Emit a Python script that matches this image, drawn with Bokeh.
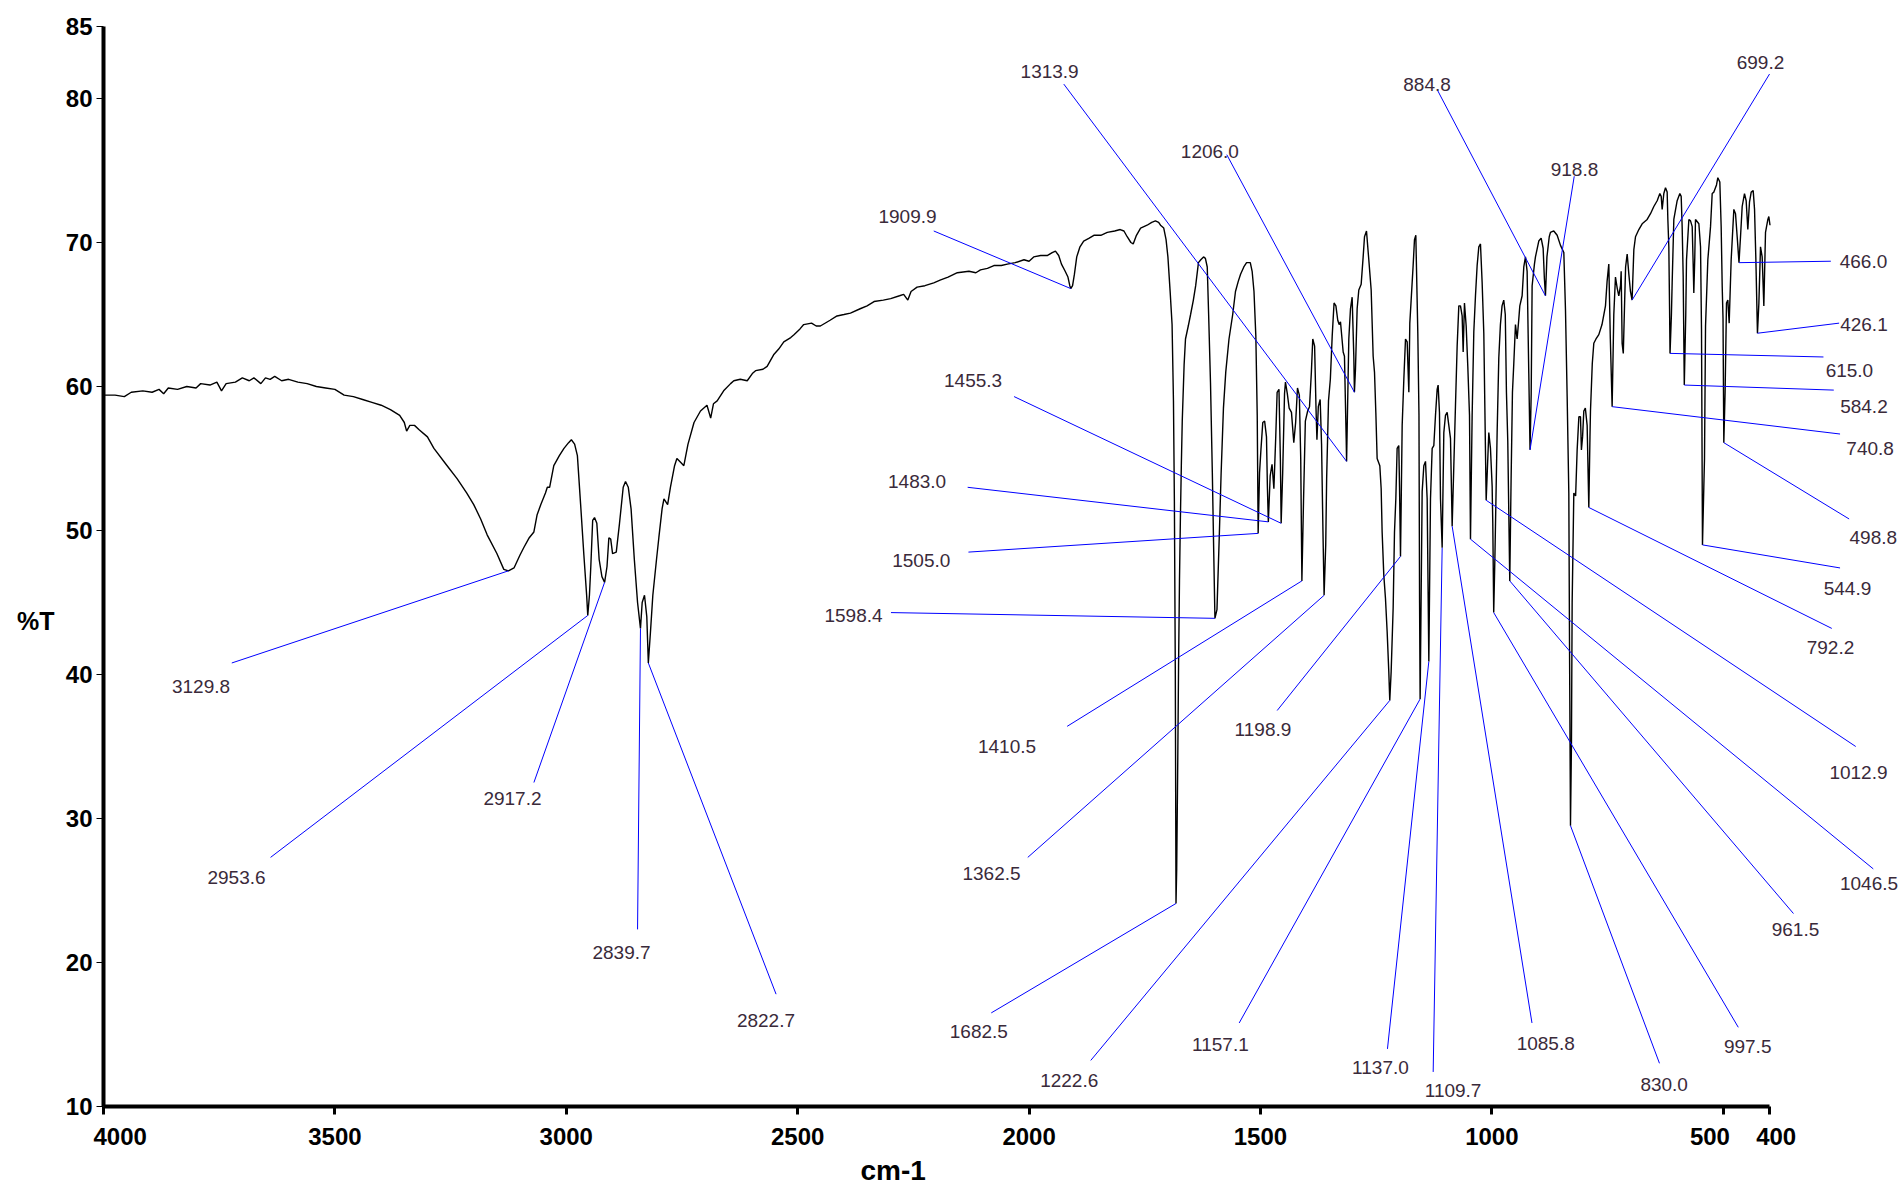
from bokeh.plotting import figure
from bokeh.models import Range1d, FixedTicker, LinearAxis
from bokeh.embed import file_html
from bokeh.resources import INLINE
from bokeh.core.properties import value

# ---------------- spectrum ----------------
wavenumber = [
    4000, 3975, 3955, 3940, 3915, 3895, 3880, 3870, 3860, 3840, 3820, 3800, 3790, 3770, 3755, 3745, 3735, 3715,
    3700, 3685, 3675, 3660, 3650, 3640, 3630, 3615, 3600, 3580, 3560, 3540, 3520, 3500, 3480, 3460, 3440, 3420,
    3400, 3380, 3360, 3350, 3345, 3338, 3328, 3318, 3300, 3286, 3260, 3236, 3215, 3200, 3185, 3171, 3150, 3135,
    3125, 3113, 3100, 3092, 3080, 3070, 3063, 3055, 3045, 3041, 3036, 3027, 3015, 3005, 2995, 2989, 2982, 2976,
    2969, 2962, 2956, 2953.6, 2950, 2947, 2943, 2939, 2934, 2929, 2923, 2917.2, 2912, 2908, 2904, 2900, 2892,
    2885, 2877, 2872, 2866, 2860, 2853, 2846, 2839.7, 2836, 2831, 2826, 2822.7, 2818, 2813, 2805, 2800, 2793,
    2789, 2781, 2775, 2766, 2761, 2752, 2746, 2737, 2724, 2710, 2696, 2688, 2682, 2674, 2660, 2645, 2638, 2624,
    2609, 2598, 2591, 2575, 2566, 2552, 2541, 2530, 2515, 2508, 2495, 2487, 2470, 2460, 2451, 2430, 2415, 2400,
    2386, 2365, 2350, 2335, 2315, 2299, 2280, 2271, 2262, 2255, 2242, 2225, 2206, 2191, 2175, 2155, 2130, 2115,
    2105, 2090, 2076, 2060, 2047, 2030, 2011, 2000, 1990, 1975, 1960, 1950, 1943, 1936, 1930, 1922, 1916, 1912,
    1909.9, 1906, 1902, 1897, 1890, 1882, 1870, 1860, 1845, 1831, 1815, 1803, 1795, 1788, 1780, 1775, 1768, 1759,
    1745, 1735, 1727, 1720, 1716, 1709, 1704, 1700, 1695, 1691, 1688, 1686, 1684, 1682.5, 1681, 1679, 1677, 1675,
    1673, 1671, 1669, 1665, 1662, 1656, 1651, 1645, 1640, 1634, 1629, 1623, 1619, 1615, 1612, 1608, 1604, 1601,
    1598.4, 1594, 1589, 1585, 1580, 1575, 1568, 1560, 1554, 1548, 1543, 1536, 1530, 1522, 1518, 1514, 1510, 1507,
    1505, 1502, 1499, 1495, 1491, 1487, 1485, 1483, 1479, 1475, 1471, 1467, 1464, 1460, 1457, 1455.3, 1452, 1448,
    1446, 1442, 1438, 1433, 1428, 1424, 1420, 1416, 1413, 1410.5, 1407, 1403, 1398, 1394, 1390, 1387, 1383, 1380,
    1378, 1375, 1371, 1368, 1365, 1362.5, 1359, 1357, 1353, 1349, 1345, 1341, 1337, 1333, 1330,
    1327.1, 1321.3, 1318.5, 1314.8, 1313.9, 1309.1, 1305.5, 1301.9, 1298.3, 1297, 1294.7, 1291.1, 1287.5, 1282.4,
    1278.1, 1275.2, 1270.9, 1265.9, 1260.8, 1256.5, 1253.6, 1250.7, 1247.9, 1242.1, 1239.2, 1237.1, 1233.5, 1229.9,
    1226.3, 1222.7, 1220.6, 1217.6, 1213.3, 1210.4, 1207.5, 1204.7, 1201.1, 1199.5, 1197.4, 1193.8, 1190.2, 1186.6,
    1183.0, 1179.4, 1177.3, 1174.4, 1170.1, 1167.2, 1164.3, 1160.0, 1157.5, 1156.2, 1155.0, 1150.6, 1147.0, 1143.4,
    1139.8, 1136.2, 1132.6, 1129.0, 1125.4, 1121.8, 1118.2, 1116.1, 1113.2, 1111.0, 1107.4, 1103.8, 1100.2, 1096.6,
    1093.0, 1089.4, 1085.8, 1082.2, 1078.6, 1075.0, 1071.4, 1067.8, 1064.2, 1062.0, 1059.2, 1055.5, 1052.0, 1048.3,
    1046.2, 1042.6, 1039.0, 1035.4, 1031.8, 1028.2, 1024.6, 1021.0, 1017.4, 1015.2, 1012.3, 1006.6, 1003.0, 999.4,
    998.0, 996.0, 993.5, 988.6, 985, 981.5, 978, 974.3, 971, 968.5, 965.6, 961.3, 958.4, 955.5, 952.6, 949,
    945.4, 942, 939.6, 934.6, 931, 927.4, 923.8, 920.2, 917.5, 915, 913, 908, 905.8, 898.6, 893.5, 889.2, 886.5,
    884.2, 881, 876, 873.4, 866.2, 858.9, 851.7, 844.5, 840.9, 837.3, 833.7, 832, 830.1, 828, 826.5, 822.9, 819,
    815.7, 812, 808.5, 806.5, 804, 801.3, 798, 794.1, 790.5, 788, 786.9, 783, 779.7, 775, 768.9, 762, 754.5, 751,
    747.3, 744, 740.1, 736.5, 732.9, 729, 725.7, 722, 720.6, 718.5, 716, 713, 711, 707.6, 704, 700.5, 697, 693.2,
    689.6, 682.4, 675.2, 664.4, 657.2, 650, 642.8, 637, 634.1, 632, 628.4, 624.8, 621.2, 619.7, 617.6, 616, 615,
    612, 610.4, 606.8, 599.6, 593.8, 590.9, 588.8, 586.6, 584.2, 581, 579.4, 574.3, 570.7, 567.1, 565, 563.6, 561.5,
    560, 552.7, 549.1, 547, 544.9, 542, 540.5, 538.3, 533.3, 527.5, 523.9, 520.3, 514.6, 511.7, 507.4, 504.5, 502.3,
    500.5, 498.8, 496, 493, 490.1, 487.2, 482.9, 477.1, 473.5, 469.9, 466, 462.7, 459.1, 454.1, 450.5, 446.9, 443.3,
    439.6, 435.3, 432.4, 429.5, 426.1, 423, 419.5, 415.9, 412.3, 408.7, 403.6, 401.5, 399,
]
transmittance = [
    59.4, 59.4, 59.3, 59.6, 59.7, 59.6, 59.8, 59.5, 59.9, 59.8, 60.0, 59.9, 60.2, 60.1, 60.3, 59.7, 60.2, 60.3,
    60.6, 60.4, 60.6, 60.2, 60.6, 60.5, 60.7, 60.4, 60.5, 60.3, 60.2, 60.0, 59.9, 59.8, 59.4, 59.3, 59.1, 58.9,
    58.7, 58.4, 58.0, 57.5, 56.9, 57.3, 57.3, 57.0, 56.5, 55.7, 54.6, 53.6, 52.6, 51.8, 50.8, 49.7, 48.4, 47.3,
    47.2, 47.4, 48.3, 48.8, 49.5, 49.9, 51.1, 51.8, 52.6, 53.0, 53.0, 54.5, 55.2, 55.7, 56.1, 56.3, 56.0, 55.2,
    51.8, 48.3, 45.5, 44.1, 45.5, 47.5, 50.7, 50.9, 50.5, 48.0, 46.8, 46.4, 47.5, 49.5, 49.4, 48.4, 48.5,
    50.5, 53.0, 53.4, 53.0, 51.5, 48.0, 45.0, 43.2, 45.0, 45.5, 44.0, 40.8, 43.0, 45.5, 48.0, 49.5, 51.5,
    52.2, 51.8, 53.0, 54.5, 55.0, 54.7, 54.5, 56.0, 57.5, 58.3, 58.7, 57.8, 58.8, 59.0, 59.7, 60.2, 60.4, 60.5,
    60.4, 60.9, 61.1, 61.2, 61.4, 62.2, 62.6, 63.1, 63.4, 63.6, 64.0, 64.3, 64.4, 64.2, 64.2, 64.6, 64.9, 65.0,
    65.1, 65.4, 65.6, 65.9, 66.0, 66.1, 66.3, 66.4, 66.0, 66.6, 66.9, 67.0, 67.2, 67.4, 67.6, 67.9, 68.0, 67.9,
    68.1, 68.2, 68.4, 68.4, 68.5, 68.6, 68.8, 68.7, 69.0, 69.1, 69.1, 69.3, 69.4, 69.1, 68.5, 68.0, 67.6, 67.0,
    66.8, 67.0, 67.8, 69.0, 69.7, 70.1, 70.3, 70.5, 70.5, 70.7, 70.8, 70.9, 70.8, 70.4, 70.0, 69.9, 70.5, 71.0,
    71.2, 71.4, 71.5, 71.4, 71.2, 71.0, 70.2, 69.0, 66.5, 64.3, 59.0, 52.0, 40.0, 24.1, 26.5, 33.0, 40.5, 46.5,
    50.9, 54.5, 57.6, 61.5, 63.3, 64.2, 65.0, 66.0, 67.0, 68.6, 68.8, 69.0, 68.9, 68.3, 65.0, 60.3, 54.0, 48.5,
    43.9, 44.5, 49.6, 54.0, 58.5, 61.0, 63.3, 65.0, 66.6, 67.3, 67.8, 68.3, 68.6, 68.6, 68.0, 66.6, 63.5, 58.0,
    49.8, 54.0, 55.6, 57.5, 57.6, 56.5, 53.0, 50.6, 53.8, 54.6, 52.9, 56.5, 59.6, 59.8, 55.0, 50.5, 54.0, 59.5,
    60.3, 59.5, 58.5, 58.2, 56.1, 57.5, 59.9, 59.4, 55.0, 46.5, 52.0, 57.6, 58.3, 58.6, 61.0, 63.3, 62.8, 58.5,
    56.3, 58.6, 59.1, 56.0, 50.0, 45.5, 49.0, 53.6, 59.0, 60.5, 63.5, 65.8, 65.6, 64.6, 64.3,
    64.5, 62.4, 62.1, 56.4, 54.8, 63.3, 65.4, 66.2, 62.1, 59.6, 61.2, 65.4, 66.7, 67.1,
    69.0, 70.4, 70.8, 68.8, 66.7, 62.1, 61.0, 58.2, 55.0, 54.5, 52.9, 49.9, 46.9, 45.3,
    43.0, 40.2, 38.2, 40.2, 44.6, 49.9, 52.2, 55.7, 55.9, 53.0, 48.2, 57.3, 60.5, 63.3,
    63.1, 59.6, 64.4, 66.0, 68.4, 70.2, 70.5, 63.7, 58.0, 45.0, 38.3, 52.7, 54.5, 54.8,
    52.2, 40.9, 52.2, 55.7, 55.9, 58.0, 59.8, 60.1, 58.2, 52.2, 48.8, 56.8, 58.0, 58.2,
    57.3, 56.4, 50.3, 54.5, 58.7, 62.8, 65.6, 65.6, 64.9, 62.4, 65.8, 64.2, 61.4, 58.0,
    49.4, 58.0, 63.8, 66.3, 68.4, 69.7, 69.9, 67.2, 63.7, 58.7, 52.1, 56.8, 55.7, 53.1,
    50.5, 44.3, 48.0, 56.8, 62.0, 64.3, 65.6, 66.0, 65.0, 59.6, 56.2, 46.5, 53.6, 59.6, 61.6, 64.3,
    63.3, 64.6, 65.6, 66.3, 68.3, 69.0, 68.0, 60.9, 55.6, 59.5, 67.0, 68.5, 69.0, 70.1, 70.3, 69.6, 67.5,
    66.3, 69.0, 70.4, 70.7, 70.8, 70.5, 69.8, 69.3, 65.3, 59.3, 52.6, 40.8, 29.5, 35.2, 45.0, 52.6, 52.4,
    55.6, 57.9, 57.9, 55.6, 56.5, 58.3, 58.5, 57.3, 51.6, 56.5, 58.3, 61.6, 63.0, 63.3, 63.6, 64.3, 65.6, 67.3,
    68.5, 63.3, 58.6, 65.0, 67.6, 66.8, 66.3, 67.0, 68.0, 63.0, 62.3, 66.0, 68.3, 69.2, 67.8, 66.6, 66.0, 69.5,
    70.4, 70.9, 71.3, 71.6, 72.0, 72.5, 72.9, 73.4, 73.2, 72.3, 73.4, 73.8, 73.5, 71.6, 69.7, 65.4, 62.3,
    65.0, 67.2, 71.6, 72.9, 73.4, 73.2, 71.1, 67.7, 60.1, 65.0, 68.8, 71.6, 71.5, 71.1, 68.5, 66.5, 69.0,
    71.6, 71.3, 69.7, 64.0, 49.0, 53.0, 55.0, 64.2, 68.8, 71.1, 73.4, 73.5, 74.0, 74.5, 74.2, 71.1, 67.0,
    64.7, 56.1, 59.6, 65.8, 66.0, 64.4, 68.8, 72.3, 72.0, 70.4, 68.6, 70.4, 72.5, 73.4, 72.9, 70.9, 72.8,
    73.5, 73.6, 72.3, 68.8, 63.7, 65.8, 69.7, 69.0, 65.6, 70.7, 71.6, 71.8, 71.2,
]

# ---------------- peak annotations ----------------
peak_labels = ["3129.8", "2953.6", "2917.2", "2839.7", "2822.7", "1909.9", "1313.9", "1206.0", "1455.3",
               "1483.0", "1505.0", "1598.4", "1410.5", "1362.5", "1682.5", "1222.6", "1198.9", "1157.1",
               "1137.0", "1109.7", "1085.8", "830.0", "997.5", "961.5", "1046.5", "1012.9", "792.2", "544.9",
               "498.8", "740.8", "584.2", "615.0", "426.1", "466.0", "699.2", "884.8", "918.8"]
# leader tip (on the spectrum)
peak_wn = [3125, 2953.6, 2917.2, 2839.7, 2822.7, 1909.9, 1313.9, 1297, 1455.3,
           1483.0, 1505.0, 1598.4, 1410.5, 1362.5, 1682.5, 1220.6, 1197.4, 1155.0,
           1136.2, 1107.4, 1085.8, 830.1, 996.0, 961.3, 1046.2, 1012.3, 790.5, 544.9,
           498.8, 740.1, 584.2, 615.0, 426.1, 466.0, 697, 884.2, 917.5]
peak_T = [47.2, 44.1, 46.4, 43.2, 40.8, 66.8, 54.8, 59.6, 50.5,
          50.6, 49.8, 43.9, 46.5, 45.5, 24.1, 38.2, 48.2, 38.3,
          40.9, 48.8, 50.3, 29.5, 44.3, 46.5, 49.4, 52.1, 51.6, 49.0,
          56.1, 58.6, 60.1, 62.3, 63.7, 68.6, 66.0, 66.3, 55.6]
# leader start (next to the label)
leader_wn = [3722.8, 3639, 3070, 2846, 2546.7, 2206, 1925, 1572.8, 2032.4,
             2132.7, 2131, 2298.4, 1917.7, 2002.8, 2081.7, 1866.7, 1463.9, 1546,
             1225.6, 1126.8, 913.3, 637.8, 467.5, 348.3, 175.8, 213.7, 265.5, 247.6,
             228, 247.6, 261.2, 283.5, 249.6, 267.5, 400, 1117.9, 822]
leader_T = [40.8, 27.3, 32.5, 22.3, 17.8, 70.8, 81.0, 76.1, 59.3,
            53.0, 48.5, 44.3, 36.4, 27.3, 16.5, 13.2, 37.5, 15.8,
            14.0, 12.4, 15.8, 13.0, 15.5, 23.4, 26.5, 35.0, 43.2, 47.4,
            50.8, 56.7, 59.75, 62.05, 64.4, 68.7, 81.7, 80.6, 74.6]
# label text centre
label_wn = [3789.3, 3712.6, 3116.3, 2880.7, 2568.5, 2262.7, 1955.6, 1609.3, 2121,
            2242, 2233, 2379.4, 2047.7, 2081.2, 2108.5, 1913.3, 1494.6, 1586.5,
            1240.7, 1083.8, 883.7, 627.7, 447.2, 343.9, 185.1, 207.8, 268.3, 231.6,
            175.8, 182.7, 196, 227.4, 196, 197, 419.6, 1140, 821.5]
label_T = [39.2, 25.9, 31.4, 20.7, 16.0, 71.8, 81.9, 76.3, 60.4,
           53.4, 47.9, 44.1, 35.0, 26.2, 15.2, 11.8, 36.2, 14.3,
           12.7, 11.1, 14.4, 11.5, 14.2, 22.3, 25.5, 33.2, 41.9, 46.0,
           49.5, 55.7, 58.6, 61.1, 64.3, 68.7, 82.5, 81.0, 75.1]

x_ticks = [4000, 3500, 3000, 2500, 2000, 1500, 1000, 500, 400]
x_tick_text = {4000: "\u00a0" * 5 + "4000", 500: "500" + "\u00a0" * 4, 400: "\u00a0\u00a0400"}
y_ticks = [10, 20, 30, 40, 50, 60, 70, 80, 85]
x_title = "cm-1"
y_title = "%T"

NB = "\u00a0"

p = figure(width=1900, height=1188,
           x_range=Range1d(4000, 117), y_range=Range1d(10, 85),
           output_backend="svg", toolbar_location=None,
           min_border_left=103, min_border_right=0, min_border_top=26, min_border_bottom=77)
p.outline_line_color = None
p.xgrid.visible = False
p.ygrid.visible = False
p.background_fill_color = "white"
p.border_fill_color = "white"

for ax in (p.xaxis[0], p.yaxis[0]):
    ax.axis_line_width = 4
    ax.axis_line_color = "black"
    ax.major_tick_line_color = "black"
    ax.minor_tick_line_color = None
    ax.major_tick_in = 0
    ax.major_label_text_font = "Liberation Sans"
    ax.major_label_text_font_style = "bold"
    ax.major_label_text_font_size = "24px"
    ax.major_label_text_color = "black"

p.xaxis.ticker = FixedTicker(ticks=x_ticks)
p.xaxis.major_label_overrides = x_tick_text
p.xaxis.bounds = (400, 4000)
p.xaxis.major_tick_out = 8
p.xaxis.major_tick_line_width = 3
p.xaxis.major_label_standoff = 8

p.yaxis.ticker = FixedTicker(ticks=y_ticks)
p.yaxis.major_tick_out = 7
p.yaxis.major_tick_line_width = 1
p.yaxis.major_label_standoff = 4

# axis titles carried by bare helper axes (no line, ticks or labels);
# padding characters move the visible title off the frame centre, as in the reference
x_title_axis = LinearAxis(ticker=FixedTicker(ticks=[]), axis_label=x_title + NB * 28,
                          axis_line_color=None, major_tick_line_color=None, minor_tick_line_color=None,
                          major_label_text_font_size="0px", axis_label_standoff=2,
                          axis_label_text_font="Liberation Sans", axis_label_text_font_style="bold",
                          axis_label_text_font_size="28px", axis_label_text_color="black")
p.add_layout(x_title_axis, "below")
y_title_axis = LinearAxis(ticker=FixedTicker(ticks=[]), axis_label=(NB + "\n") * 4 + y_title,
                          axis_label_orientation="horizontal", axis_label_text_line_height=0.97,
                          axis_line_color=None, major_tick_line_color=None, minor_tick_line_color=None,
                          major_label_text_font_size="0px", axis_label_standoff=8,
                          axis_label_text_font="Liberation Sans", axis_label_text_font_style="bold",
                          axis_label_text_font_size="25px", axis_label_text_color="black")
p.add_layout(y_title_axis, "left")

p.line(wavenumber, transmittance, line_color="black", line_width=1.4)

p.segment(x0=leader_wn, y0=leader_T, x1=peak_wn, y1=peak_T, line_color="#0000ff", line_width=1)

p.text(x=label_wn, y=label_T, text=peak_labels, text_font=value("Liberation Sans"),
       text_font_size="19px", text_color="#3a2a3a", text_align="center", text_baseline="middle")

open("out.html", "w").write(file_html(p, INLINE))
